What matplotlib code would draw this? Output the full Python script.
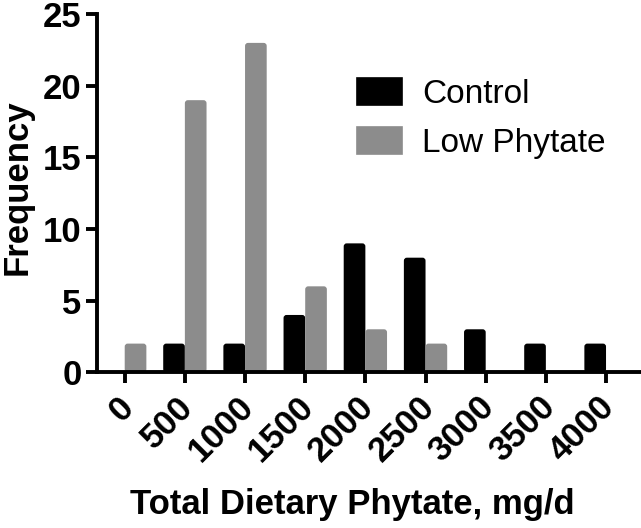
import numpy as np
import matplotlib

matplotlib.use("Agg")
import matplotlib.pyplot as plt
from matplotlib.patches import FancyBboxPatch
from matplotlib.transforms import ScaledTranslation

bins = [0, 500, 1000, 1500, 2000, 2500, 3000, 3500, 4000]
control = [0, 2, 2, 4, 9, 8, 3, 2, 2]
low_phytate = [2, 19, 23, 6, 3, 2, 0, 0, 0]

plt.rcParams["font.family"] = ["Liberation Sans", "DejaVu Sans"]

fig = plt.figure(figsize=(6.41, 5.28), dpi=100)
ax = fig.add_axes([0.151, 0.295, 0.847, 0.678])

x = np.array(bins, dtype=float)
w = 180
b1 = ax.bar(x - w / 2, control, width=w, color="black", edgecolor="black",
            linewidth=1.2, joinstyle="round", label="Control")
b2 = ax.bar(x + w / 2, low_phytate, width=w, color="#8c8c8c",
            edgecolor="#8c8c8c", linewidth=1.2, joinstyle="round",
            label="Low Phytate")

ax.set_xlim(-232, 4280)
ax.set_ylim(0, 25)

# swap plain rectangles for slightly rounded ones (Prism look)
xl, yl = ax.get_xlim(), ax.get_ylim()
bbox = ax.get_position()
px_x = (xl[1] - xl[0]) / (bbox.width * fig.get_figwidth() * fig.dpi)
px_y = (yl[1] - yl[0]) / (bbox.height * fig.get_figheight() * fig.dpi)
for bars in (b1, b2):
    for r in bars.patches:
        if r.get_height() <= 0:
            r.set_visible(False)
            continue
        fb = FancyBboxPatch((r.get_x(), r.get_y()), r.get_width(),
                            r.get_height(),
                            boxstyle=f"round,pad=0,rounding_size={3 * px_x}",
                            mutation_aspect=px_y / px_x,
                            facecolor=r.get_facecolor(), edgecolor="none")
        ax.add_patch(fb)
        r.set_visible(False)

ax.set_yticks([0, 5, 10, 15, 20, 25])
ax.set_xticks(bins)
ax.set_xticklabels([str(b) for b in bins], rotation=45, ha="right",
                   rotation_mode="anchor")

for s in ("top", "right"):
    ax.spines[s].set_visible(False)
for s in ("left", "bottom"):
    ax.spines[s].set_linewidth(2.8)
    ax.spines[s].set_zorder(3)
ax.tick_params(width=2.8, length=8, labelsize=25, pad=3)
for lab in ax.get_xticklabels() + ax.get_yticklabels():
    lab.set_fontweight("bold")
# nudge rotated x labels a bit left/down like the original
shift = ScaledTranslation(-8 / 100, -3 / 100, fig.dpi_scale_trans)
for lab in ax.get_xticklabels():
    lab.set_transform(lab.get_transform() + shift)

ax.set_ylabel("Frequency", fontsize=25, fontweight="bold")
ax.yaxis.set_label_coords(-0.116, 0.517)
ax.set_xlabel("Total Dietary Phytate, mg/d", fontsize=25, fontweight="bold")
ax.xaxis.set_label_coords(0.47, -0.323)

leg = ax.legend(loc="upper left", bbox_to_anchor=(0.510, 0.91),
                bbox_transform=fig.transFigure, frameon=False,
                fontsize=24, handlelength=1.35, handleheight=0.9,
                handletextpad=0.6, labelspacing=0.5)
for h in leg.legend_handles:
    h.set_visible(True)

fig.savefig("out.png", dpi=100)
